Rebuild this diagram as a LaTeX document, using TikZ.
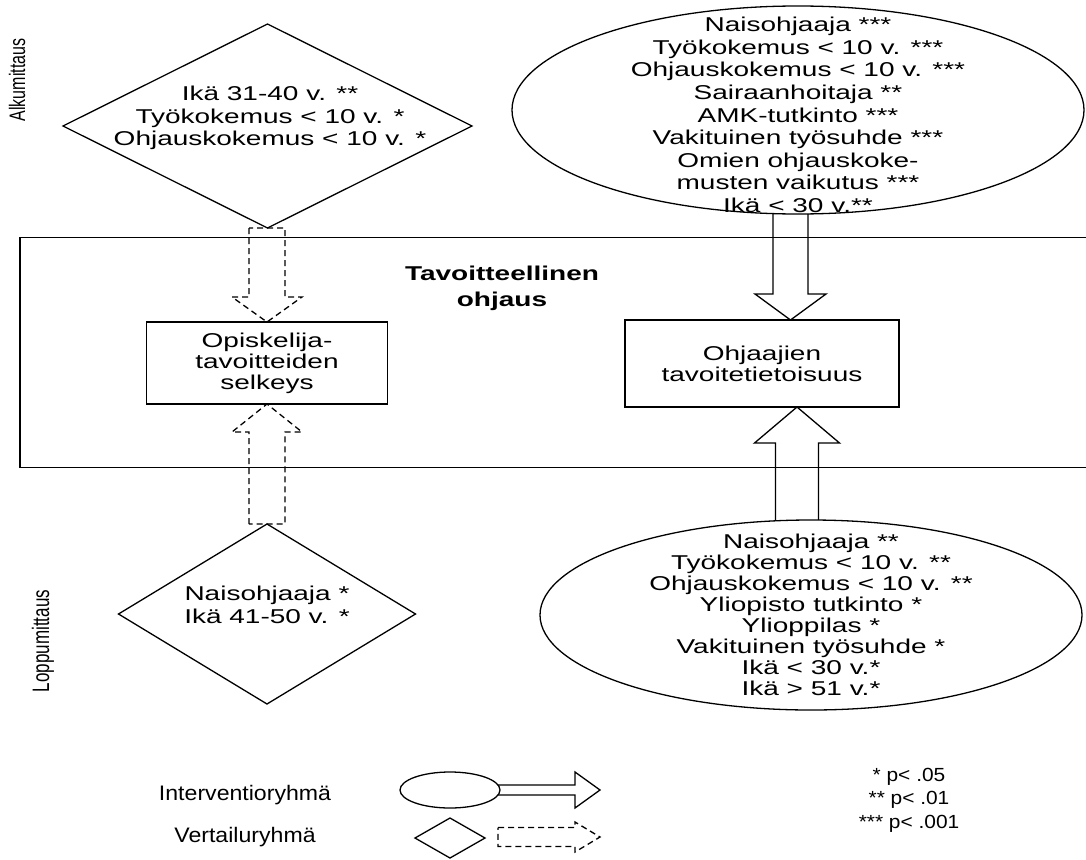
\documentclass[tikz,border=0pt]{standalone}
\usepackage{graphicx}
\usepackage{fontspec}
\setmainfont{Liberation Sans}[FakeStretch=1.4]
\newfontfamily\sidefont{Liberation Sans}
\newfontfamily\keyfont{Liberation Sans}[FakeStretch=1.1]
\usetikzlibrary{shapes.geometric,calc}
\pgfdeclarelayer{back}
\pgfsetlayers{back,main}

% block arrows: style, tail, tip, shaft half width, head half width, head length
\newcommand\blkdown[6]{\draw[#1] let \p1=(#2), \p2=(#3) in
  ({\x2-#4pt},\y1) -- ({\x2-#4pt},{\y2+#6pt}) -- ({\x2-#5pt},{\y2+#6pt}) -- (\x2,\y2)
  -- ({\x2+#5pt},{\y2+#6pt}) -- ({\x2+#4pt},{\y2+#6pt}) -- ({\x2+#4pt},\y1) -- cycle;}
\newcommand\blkup[6]{\draw[#1] let \p1=(#2), \p2=(#3) in
  ({\x2-#4pt},\y1) -- ({\x2-#4pt},{\y2-#6pt}) -- ({\x2-#5pt},{\y2-#6pt}) -- (\x2,\y2)
  -- ({\x2+#5pt},{\y2-#6pt}) -- ({\x2+#4pt},{\y2-#6pt}) -- ({\x2+#4pt},\y1) -- cycle;}
\newcommand\blkright[6]{\draw[#1] let \p1=(#2), \p2=(#3) in
  (\x1,{\y2+#4pt}) -- ({\x2-#6pt},{\y2+#4pt}) -- ({\x2-#6pt},{\y2+#5pt}) -- (\x2,\y2)
  -- ({\x2-#6pt},{\y2-#5pt}) -- ({\x2-#6pt},{\y2-#4pt}) -- (\x1,{\y2-#4pt}) -- cycle;}

\begin{document}
\begin{tikzpicture}[x=1pt,y=-1pt,line width=1.3pt,
  lab/.style={font=\fontsize{20}{22.5}\selectfont,align=center,inner sep=0pt},
  keylab/.style={font=\keyfont\fontsize{21}{23.5}\selectfont,align=center,inner sep=0pt},
  oval/.style={draw,fill=white,ellipse,inner sep=0pt,outer sep=0pt},
  rhomb/.style={draw,fill=white,diamond,inner sep=0pt,outer sep=0pt},
  goalbox/.style={draw,rectangle,inner sep=0pt,outer sep=0pt,
    font=\fontsize{20}{21}\selectfont,align=center},
  solidarrow/.style={draw=black,line width=1.3pt,line join=miter},
  dasharrow/.style={draw=black,line width=1.3pt,dash pattern=on 6pt off 4pt}]
\useasboundingbox (0,0) rectangle (1086,859);
\clip (0,0) rectangle (1086,859);

% measurement labels
\node (am) at (17,80) {\sidefont\fontsize{16}{16}\selectfont\rotatebox{90}{\scalebox{1}[1.4]{Alkumittaus}}};
\node (lm) at (43,641) {\sidefont\fontsize{17}{17}\selectfont\rotatebox{90}{\scalebox{1}[1.4]{Loppumittaus}}};

% frame of goal-oriented supervision
\draw (20,237.5) rectangle (1100,467.5);
\node[font=\fontsize{20}{26}\selectfont\bfseries,align=center] (title) at (502,288) {Tavoitteellinen\\ohjaus};

\node[goalbox,minimum width=241pt,minimum height=82pt] (b1) at (267,363) {Opiskelija-\\tavoitteiden\\selkeys};
\node[goalbox,minimum width=274pt,minimum height=87pt] (b2) at (762,363.5) {Ohjaajien\\tavoitetietoisuus};

% comparison group
\node[rhomb,minimum width=409pt,minimum height=204pt] (d1) at (267.5,126) {};
\node[lab] (d1t) at (270,118) {Ikä 31-40 v. **\\Työkokemus < 10 v. *\\Ohjauskokemus < 10 v. *};
\node[rhomb,minimum width=297pt,minimum height=180pt] (d2) at (267,614) {};
\node[lab] (d2t) at (267,605) {Naisohjaaja *\\Ikä 41-50 v. *};

% intervention group
\node[oval,minimum width=572pt,minimum height=208pt] (e1) at (798,110) {};
\node[lab,font=\fontsize{20}{22.6}\selectfont] (e1t) at (798,115) {Naisohjaaja ***\\Työkokemus < 10 v. ***\\Ohjauskokemus < 10 v. ***\\Sairaanhoitaja **\\AMK-tutkinto ***\\Vakituinen työsuhde ***\\Omien ohjauskoke-\\musten vaikutus ***\\Ikä < 30 v.**};
\node[oval,minimum width=542pt,minimum height=190pt] (e2) at (811,615) {};
\node[lab,font=\fontsize{20}{21}\selectfont] (e2t) at (811,615) {Naisohjaaja **\\Työkokemus < 10 v. **\\Ohjauskokemus < 10 v. **\\Yliopisto tutkinto *\\Ylioppilas *\\Vakituinen työsuhde *\\Ikä < 30 v.*\\Ikä > 51 v.*};

\coordinate (t1) at ([xshift=-7.5pt,yshift=5pt]e1.south);
\coordinate (t2) at ([xshift=-14pt,yshift=-5pt]e2.north);

% legend
\node[keylab] (li) at (245,795) {Interventioryhmä};
\node[keylab] (lv) at (245,837) {Vertailuryhmä};
\node[oval,minimum width=100pt,minimum height=36pt] (le) at (450,790) {};
\node[rhomb,minimum width=70pt,minimum height=40pt] (ld) at (450,838) {};
\coordinate (lat) at ([xshift=-4pt]le.east);
\coordinate (lah) at (600,790);
\coordinate (ldt) at (498,837);
\coordinate (ldh) at (600,837);

\node[keylab,font=\keyfont\fontsize{19}{23.5}\selectfont] (pv) at (909,800) {* p< .05\\** p< .01\\*** p< .001};

\begin{pgfonlayer}{back}
\blkdown{dasharrow}{d1.south}{b1.north}{18}{35}{25}
\blkup{dasharrow}{d2.north}{b1.south}{18}{35}{28}
\blkdown{solidarrow}{t1}{t1 |- b2.north}{17.5}{35.5}{26}
\blkup{solidarrow}{t2}{t2 |- b2.south}{21.5}{42.5}{36}
\blkright{solidarrow}{lat}{lah}{5}{18}{25}
\blkright{dasharrow}{ldt}{ldh}{9.5}{15}{25}
\end{pgfonlayer}
\end{tikzpicture}
\end{document}
